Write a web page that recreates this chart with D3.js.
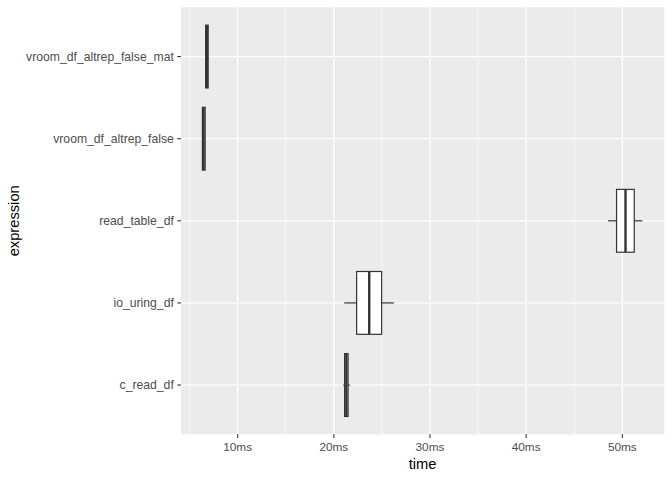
<!DOCTYPE html>
<html>
<head>
<meta charset="utf-8">
<script src="https://cdn.jsdelivr.net/npm/d3@7"></script>
<style>
html,body{margin:0;padding:0;background:#fff;}
svg{display:block;font-family:"Liberation Sans",Arial,Helvetica,sans-serif;}
</style>
</head>
<body>
<svg id="chart" width="672" height="480"></svg>
<script>
// ---- data (milliseconds) ----
const categories = ["c_read_df","io_uring_df","read_table_df","vroom_df_altrep_false","vroom_df_altrep_false_mat"];
const whiskerLow  = [20.98, 21.08, 48.52, 6.39, 6.64];
const q1Values    = [21.12, 22.37, 49.40, 6.33, 6.67];
const medians     = [21.30, 23.68, 50.33, 6.45, 6.80];
const q3Values    = [21.48, 24.97, 51.24, 6.62, 6.93];
const whiskerHigh = [21.66, 26.25, 52.08, 6.64, 6.95];
const xTicks      = [10, 20, 30, 40, 50];
const xMinor      = [5, 15, 25, 35, 45];
const xTickLabels = ["10ms","20ms","30ms","40ms","50ms"];

const svg = d3.select("#chart");
const P = {left:181, right:664.3, top:7.3, bottom:434.3};

const dmin = d3.min(whiskerLow), dmax = d3.max(whiskerHigh);
const pad = (dmax - dmin) * 0.05;
const x = d3.scaleLinear().domain([dmin - pad, dmax + pad]).range([P.left, P.right]);

// discrete y with 0.6 expansion; first category at bottom
const n = categories.length;
const y = d3.scaleLinear().domain([0.4, n + 0.6]).range([P.bottom, P.top]);
const yPos = c => y(categories.indexOf(c) + 1);
const step = Math.abs(y(1) - y(2));
const boxH = step * 0.765;
const LW = 1.2, MW = 2.4;

// panel
svg.append("rect").attr("x",P.left).attr("y",P.top)
  .attr("width",P.right-P.left).attr("height",P.bottom-P.top).attr("fill","#EBEBEB");

const grid = svg.append("g");
xMinor.forEach(v => grid.append("line").attr("x1",x(v)).attr("x2",x(v))
  .attr("y1",P.top).attr("y2",P.bottom).attr("stroke","#fff").attr("stroke-width",0.6));
xTicks.forEach(v => grid.append("line").attr("x1",x(v)).attr("x2",x(v))
  .attr("y1",P.top).attr("y2",P.bottom).attr("stroke","#fff").attr("stroke-width",1.2));
categories.forEach(c => grid.append("line").attr("x1",P.left).attr("x2",P.right)
  .attr("y1",yPos(c)).attr("y2",yPos(c)).attr("stroke","#fff").attr("stroke-width",1.2));

// boxes
const boxes = svg.append("g");
categories.forEach((c,i) => {
  const cy = yPos(c);
  const g = boxes.append("g");
  g.append("line").attr("x1",x(whiskerLow[i])).attr("x2",x(q1Values[i]))
    .attr("y1",cy).attr("y2",cy).attr("stroke","#333333").attr("stroke-width",LW);
  g.append("line").attr("x1",x(q3Values[i])).attr("x2",x(whiskerHigh[i]))
    .attr("y1",cy).attr("y2",cy).attr("stroke","#333333").attr("stroke-width",LW);
  g.append("rect").attr("x",x(q1Values[i])).attr("y",cy-boxH/2)
    .attr("width",x(q3Values[i])-x(q1Values[i])).attr("height",boxH)
    .attr("fill","#fff").attr("stroke","#333333").attr("stroke-width",LW);
  g.append("line").attr("x1",x(medians[i])).attr("x2",x(medians[i]))
    .attr("y1",cy-boxH/2).attr("y2",cy+boxH/2).attr("stroke","#333333").attr("stroke-width",MW);
});

// x axis
const xAxis = svg.append("g");
xTicks.forEach((v,i) => {
  xAxis.append("line").attr("x1",x(v)).attr("x2",x(v)).attr("y1",P.bottom).attr("y2",P.bottom+3.67)
    .attr("stroke","#333333").attr("stroke-width",1.1);
  xAxis.append("text").attr("x",x(v)).attr("y",P.bottom+16.6).attr("text-anchor","middle")
    .attr("font-size","11.8px").attr("fill","#4D4D4D").text(xTickLabels[i]);
});
svg.append("text").attr("x",(P.left+P.right)/2).attr("y",468.5).attr("text-anchor","middle")
  .attr("font-size","14.7px").attr("fill","#000").text("time");

// y axis
const yAxis = svg.append("g");
categories.forEach(c => {
  const cy = yPos(c);
  yAxis.append("line").attr("x1",P.left-3.67).attr("x2",P.left).attr("y1",cy).attr("y2",cy)
    .attr("stroke","#333333").attr("stroke-width",1.1);
  yAxis.append("text").attr("x",P.left-7.2).attr("y",cy).attr("dy","0.35em").attr("text-anchor","end")
    .attr("font-size","12.2px").attr("fill","#4D4D4D").text(c);
});
svg.append("text").attr("transform",`translate(18.5,${(P.top+P.bottom)/2}) rotate(-90)`)
  .attr("text-anchor","middle").attr("font-size","14.7px").attr("fill","#000").text("expression");
</script>
</body>
</html>
